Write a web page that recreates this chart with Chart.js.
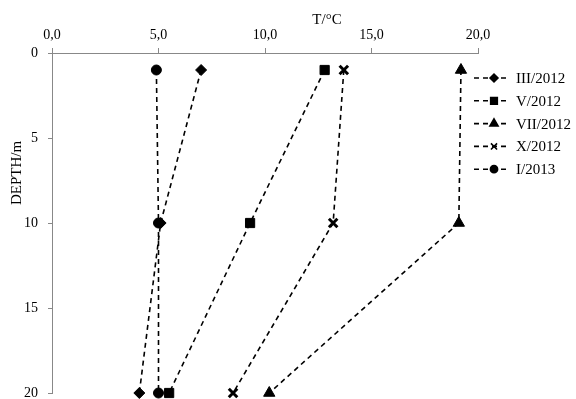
<!DOCTYPE html>
<html>
<head>
<meta charset="utf-8">
<script src="https://cdn.jsdelivr.net/npm/chart.js@4"></script>
<style>
  body { margin: 0; background: #fff; }
  canvas { display: block; }
</style>
</head>
<body>
<canvas id="chart" width="576" height="399"></canvas>
<script>
// depths (m) of the measurements
const depths = [1, 10, 20];

// temperature (°C) per campaign
const seriesNames = ['III/2012', 'V/2012', 'VII/2012', 'X/2012', 'I/2013'];
const tempMar2012 = [7.0, 5.1, 4.1];
const tempMay2012 = [12.8, 9.3, 5.5];
const tempJul2012 = [19.2, 19.1, 10.2];
const tempOct2012 = [13.7, 13.2, 8.5];
const tempJan2013 = [4.9, 5.0, 5.0];

const xTicks = [0, 5, 10, 15, 20];
const yTicks = [0, 5, 10, 15, 20];

const markers = [
    { style: 'rectRot', radius: 5.5 },
    { style: 'rect', radius: 6.5 },
    { style: 'triangle', radius: 6.5 },
    { style: 'crossRot', radius: 6 },
    { style: 'circle', radius: 5 }
];

const allTemps = [tempMar2012, tempMay2012, tempJul2012, tempOct2012, tempJan2013];
const font = 'Liberation Serif';

const datasets = allTemps.map((temps, i) => ({
    label: seriesNames[i],
    data: temps.map((t, j) => ({ x: t, y: depths[j] })),
    showLine: true,
    borderColor: '#000',
    backgroundColor: '#000',
    borderWidth: 1.6,
    borderDash: [5, 4],
    pointStyle: markers[i].style,
    pointRadius: markers[i].radius,
    pointBorderWidth: markers[i].style === 'crossRot' ? 3 : 1,
    pointBorderColor: '#000',
    pointBackgroundColor: '#000',
    clip: false
}));

// legend and axis titles drawn by hand
const extras = {
    id: 'extras',
    afterDraw(chart) {
        const ctx = chart.ctx;
        ctx.save();
        ctx.fillStyle = '#000';
        ctx.font = '15px "' + font + '"';
        ctx.textAlign = 'center';
        ctx.textBaseline = 'middle';
        ctx.fillText('T/°C', 327, 20);

        ctx.save();
        ctx.translate(17, 173);
        ctx.rotate(-Math.PI / 2);
        ctx.fillText('DEPTH/m', 0, 0);
        ctx.restore();

        chart.data.datasets.forEach((ds, i) => {
            const y = 78 + i * 22.8;
            ctx.strokeStyle = '#000';
            ctx.lineWidth = 1.6;
            ctx.setLineDash([5, 4]);
            ctx.beginPath();
            ctx.moveTo(474, y);
            ctx.lineTo(510, y);
            ctx.stroke();
            ctx.setLineDash([]);
            Chart.helpers.drawPoint(ctx, {
                pointStyle: ds.pointStyle,
                radius: ds.pointRadius * 0.72,
                borderWidth: ds.pointStyle === 'crossRot' ? 2 : 1,
                rotation: 0
            }, 494, y);
            ctx.fillStyle = '#000';
            ctx.textAlign = 'left';
            ctx.fillText(ds.label, 516, y + 1);
        });
        ctx.restore();
    }
};

new Chart(document.getElementById('chart'), {
    type: 'scatter',
    data: { datasets: datasets },
    plugins: [extras],
    options: {
        responsive: false,
        animation: false,
        layout: { autoPadding: false, padding: { top: 0, right: 98, bottom: 6, left: 0 } },
        plugins: { legend: { display: false }, tooltip: { enabled: false } },
        scales: {
            x: {
                type: 'linear',
                position: 'top',
                min: 0,
                max: 20,
                afterBuildTicks: s => { s.ticks = xTicks.map(v => ({ value: v })); },
                afterFit: s => { s.height = 53; s.paddingLeft = 0; s.paddingRight = 0; },
                ticks: {
                    color: '#000',
                    padding: 4,
                    font: { family: font, size: 14 },
                    callback: v => v.toFixed(1).replace('.', ',')
                },
                grid: { drawOnChartArea: false, drawTicks: true, tickLength: 5, color: '#888' },
                border: { display: true, color: '#888' }
            },
            y: {
                type: 'linear',
                reverse: true,
                min: 0,
                max: 20,
                afterBuildTicks: s => { s.ticks = yTicks.map(v => ({ value: v })); },
                afterFit: s => { s.width = 52; s.paddingTop = 0; s.paddingBottom = 0; },
                ticks: {
                    color: '#000',
                    padding: 10,
                    font: { family: font, size: 14 }
                },
                grid: { drawOnChartArea: false, drawTicks: true, tickLength: 4, color: '#888' },
                border: { display: true, color: '#888' }
            }
        }
    }
});
</script>
</body>
</html>
